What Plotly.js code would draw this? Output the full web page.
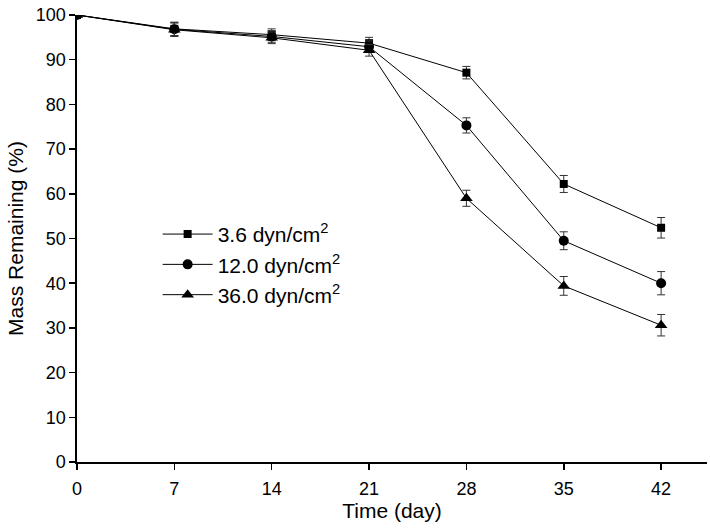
<!DOCTYPE html>
<html>
<head>
<meta charset="utf-8">
<script src="https://cdn.plot.ly/plotly-3.0.1.min.js"></script>
<style>html,body{margin:0;padding:0;background:#fff;}#chart{width:710px;height:530px;}</style>
</head>
<body>
<div id="chart"></div>
<script>
var days = [0, 7, 14, 21, 28, 35, 42];
var seriesNames = ["3.6 dyn/cm<sup>2</sup>", "12.0 dyn/cm<sup>2</sup>", "36.0 dyn/cm<sup>2</sup>"];
var mass36low = [100, 96.9, 95.6, 93.7, 87.1, 62.2, 52.4];
var err36low = [0, 1.5, 1.3, 1.3, 1.4, 1.9, 2.3];
var mass12 = [100, 96.8, 95.2, 92.9, 75.3, 49.5, 40.0];
var err12 = [0, 1.5, 1.3, 1.3, 1.7, 2.0, 2.6];
var mass36 = [100, 96.7, 94.9, 92.1, 59.0, 39.4, 30.6];
var err36 = [0, 1.5, 1.3, 1.3, 1.8, 2.1, 2.4];
var xTicks = [0, 7, 14, 21, 28, 35, 42];

var font = "Arial, 'Liberation Sans', sans-serif";
function mk(name, y, err, symbol, size) {
  return {
    x: days, y: y, name: name, type: 'scatter', mode: 'lines+markers',
    line: {color: '#000', width: 1},
    marker: {symbol: symbol, size: size, color: '#000'},
    error_y: {type: 'data', array: err, visible: true, color: '#333', thickness: 1, width: 4}
  };
}
var data = [
  mk(seriesNames[0], mass36low, err36low, 'square', 8),
  mk(seriesNames[1], mass12, err12, 'circle', 10),
  mk(seriesNames[2], mass36, err36, 'triangle-up', 11)
];
var layout = {
  width: 710, height: 530,
  margin: {l: 77, r: 3, t: 15, b: 68},
  paper_bgcolor: '#fff', plot_bgcolor: '#fff',
  font: {family: font, color: '#000', size: 18},
  showlegend: true,
  legend: {x: 0.128, y: 0.555, xanchor: 'left', yanchor: 'top', bgcolor: 'rgba(0,0,0,0)',
           font: {size: 21, family: font}, itemwidth: 50, tracegroupgap: 0},
  xaxis: {
    range: [0, 45.3], tickvals: xTicks, ticktext: xTicks.map(String),
    showgrid: false, zeroline: false, showline: true, linecolor: '#000', linewidth: 1.6,
    ticks: 'outside', ticklen: 6, tickwidth: 1.5, tickcolor: '#000',
    tickfont: {size: 18}, ticklabelstandoff: 4,
    title: {text: 'Time (day)', font: {size: 21}, standoff: 4}
  },
  yaxis: {
    range: [0, 100], dtick: 10,
    showgrid: false, zeroline: false, showline: true, linecolor: '#000', linewidth: 1.6,
    ticks: 'outside', ticklen: 6, tickwidth: 1.5, tickcolor: '#000',
    tickfont: {size: 18},
    title: {text: 'Mass Remaining (%)', font: {size: 21}, standoff: 6}
  }
};
Plotly.newPlot('chart', data, layout, {displayModeBar: false, staticPlot: true});
</script>
</body>
</html>
